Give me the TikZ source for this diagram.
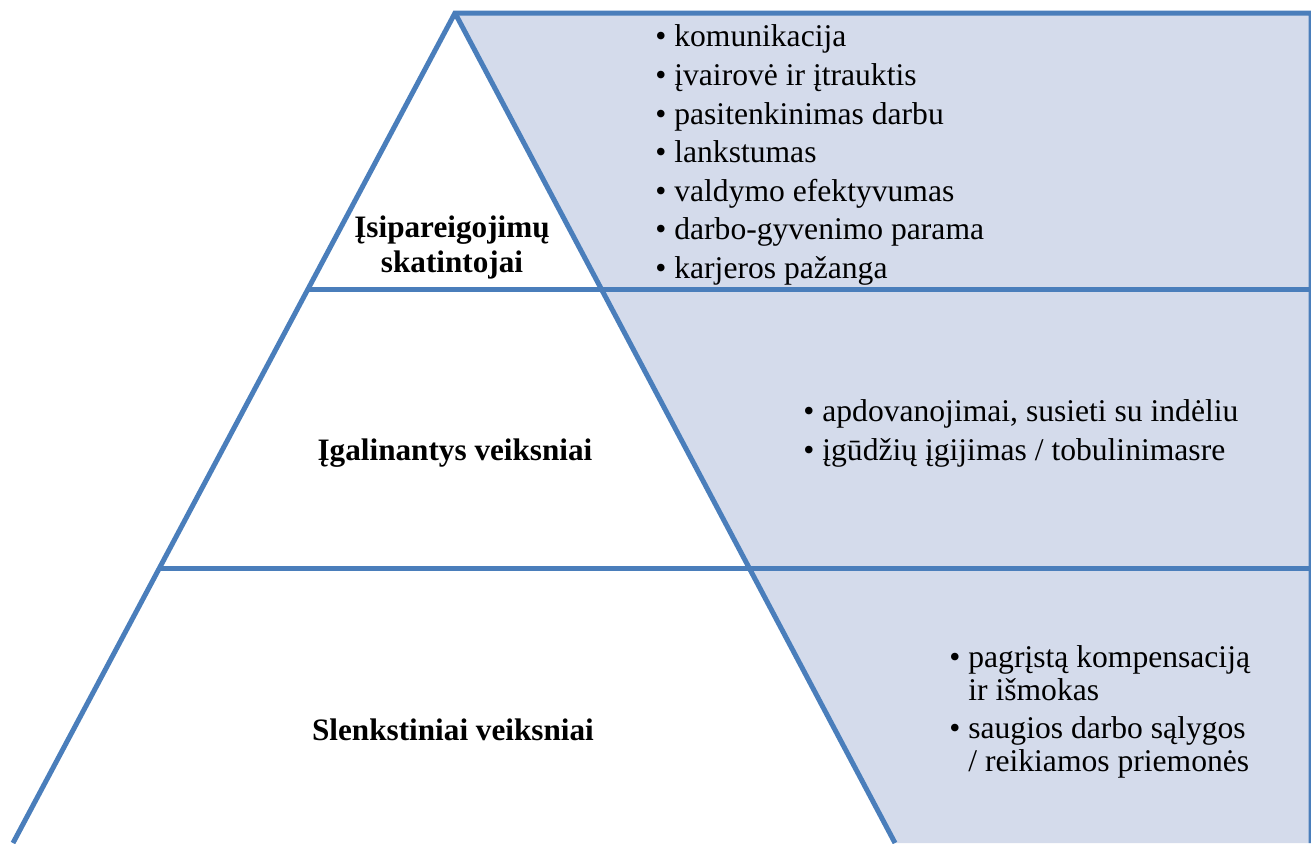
\documentclass[tikz,border=0pt]{standalone}
\usepackage{fontspec}
\setmainfont{Liberation Serif}
\usetikzlibrary{calc}
\definecolor{PyrLine}{HTML}{4A7EBB}
\definecolor{PyrFill}{HTML}{D4DBEB}

\begin{document}
\begin{tikzpicture}[x=0.5pt,y=-0.5pt]
    \tikzset{edge/.style={draw=PyrLine,line width=2.5pt},
      lbl/.style={inner sep=0pt,align=center,font=\fontsize{15.6}{17.5}\selectfont\bfseries},
      lst/.style={inner sep=0pt,anchor=west,font=\fontsize{15.8}{19.3}\selectfont}}
    \useasboundingbox (0,0) rectangle (1311,843);
    \coordinate (apex) at (455,13);
    \coordinate (bl) at (13,843);
    \coordinate (br) at (895,843);
    \coordinate (tr) at (1311,13);
    \coordinate (brr) at (1311,843);
    \coordinate (l1) at ($(apex)!0.3337!(bl)$);
    \coordinate (l2) at ($(apex)!0.6687!(bl)$);
    % shaded side
    \fill[PyrFill] (apex) -- (tr) -- (brr) -- (br) -- cycle;
    \draw[edge] (bl) -- (apex) -- (tr) -- (brr);
    \draw[edge] (apex) -- (br);
    \draw[edge] (l1) -- (l1 -| tr);
    \draw[edge] (l2) -- (l2 -| tr);
    % levels
    \node[lbl] (top) at (452,247) {Įsipareigojimų\\skatintojai};
    \node[lbl] (mid) at (455,453) {Įgalinantys veiksniai};
    \node[lbl] (base) at (453,730) {Slenkstiniai veiksniai};
    % lists
    \node[lst] (topl) at (655,155) {\begin{tabular}{@{}l@{\ }l@{}}
      • & komunikacija\\
      • & įvairovė ir įtrauktis\\
      • & pasitenkinimas darbu\\
      • & lankstumas\\
      • & valdymo efektyvumas\\
      • & darbo-gyvenimo parama\\
      • & karjeros pažanga
    \end{tabular}};
    \node[lst] (midl) at (803,433) {\begin{tabular}{@{}l@{\ }l@{}}
      • & apdovanojimai, susieti su indėliu\\
      • & įgūdžių įgijimas / tobulinimasre
    \end{tabular}};
    \node[lst,font=\fontsize{15.8}{16.5}\selectfont] (basel) at (949,713) {\begin{tabular}{@{}l@{\ }l@{}}
      • & pagrįstą kompensaciją\\
        & ir išmokas\\[2.6pt]
      • & saugios darbo sąlygos\\
        & / reikiamos priemonės
    \end{tabular}};
\end{tikzpicture}
\end{document}
